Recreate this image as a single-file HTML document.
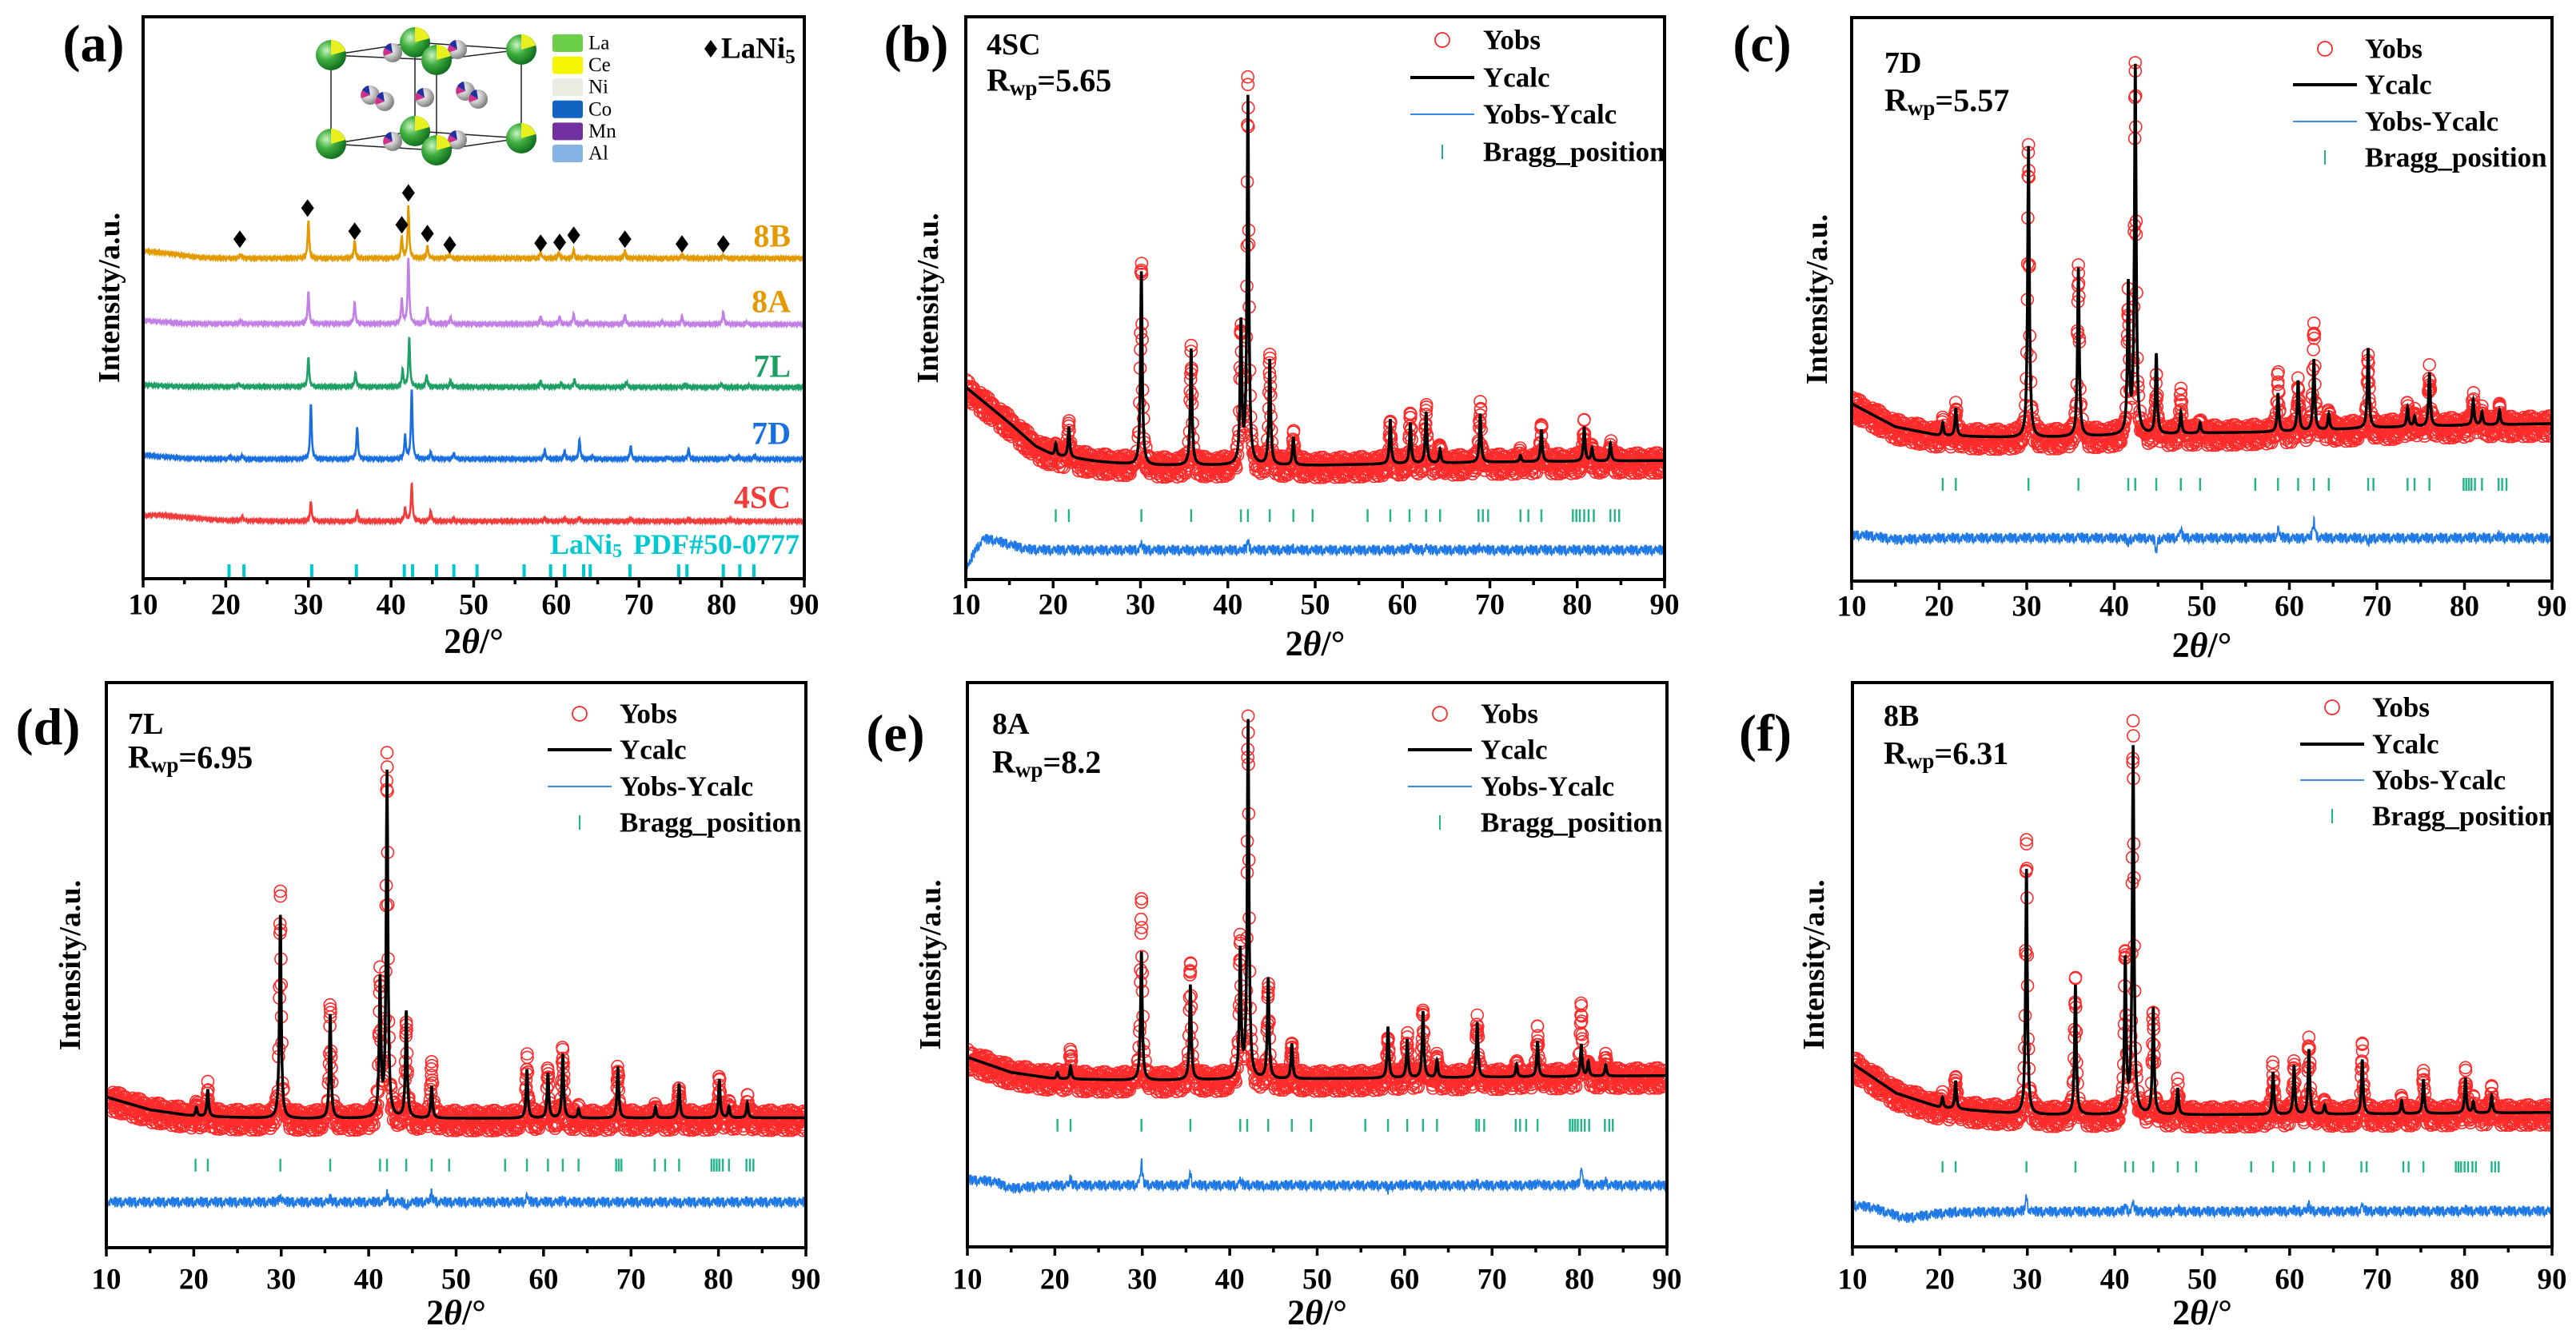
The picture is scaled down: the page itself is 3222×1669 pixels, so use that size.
<!DOCTYPE html>
<html><head><meta charset="utf-8"><title>XRD patterns and Rietveld refinements</title>
<style>
html,body{margin:0;padding:0;background:#fff;}
svg{display:block;font-family:"Liberation Serif","DejaVu Serif",serif;}
</style></head>
<body>
<svg id="fig" xmlns="http://www.w3.org/2000/svg" width="3222" height="1669" viewBox="0 0 3222 1669">
<defs>
<radialGradient id="gLa" cx="0.35" cy="0.35" r="0.7"><stop offset="0" stop-color="#c8f5c0"/><stop offset="0.45" stop-color="#3fae3f"/><stop offset="1" stop-color="#0f6a1c"/></radialGradient>
<radialGradient id="gNi" cx="0.35" cy="0.35" r="0.7"><stop offset="0" stop-color="#ffffff"/><stop offset="0.5" stop-color="#c8c8c8"/><stop offset="1" stop-color="#777"/></radialGradient>
</defs>
</svg>
<script>
// ---------- shared texture (hand-typed jitter values) ----------
const obsJitter=[0.3,-0.8,0.5,0.9,-0.2,-0.6,0.1,0.7,-0.9,0.4,-0.3,0.8,-0.5,0.2,0.6,-0.7,0.0,-0.4,0.9,-0.1,0.5,-0.9,0.3,0.7,-0.6,0.2,-0.8,0.4,0.1,-0.3,0.6,-0.2,0.8,-0.7,0.0,0.5,-0.5,0.3,-0.9,0.7,-0.1];
const xTicks=[10,20,30,40,50,60,70,80,90];
const xTickLabels=['10','20','30','40','50','60','70','80','90'];

// ---------- panel (a) data ----------
const aSampleNames=['4SC','7D','7L','8A','8B'];
const aBg4SC=[[10,79],[12,80],[15,77],[20,73],[30,72],[90,72]];
const aBg7D=[[10,155],[15,151],[20,150],[90,150]];
const aBg7L=[[10,243],[15,241],[90,240]];
const aBg8A=[[10,324],[15,320],[90,319]];
const aBg8B=[[10,411],[13,408],[17,403],[20,402],[90,402]];
const aPos4SC=[22,30.3,35.9,41.7,42.5,44.8,47.6,58.6,61,62.8,69,76,81];
const aH4SC=[5,25,13,17,47,13,3,5,5,6,5,3,3];
const aPos7D=[20.5,22,30.3,35.9,41.7,42.5,44.8,47.6,58.6,61,62.8,64.4,69,73.5,76,81,82,84];
const aH7D=[4,5,69,40,30,88,9,8,12,10,25,4,17,3,13,5,4,4];
const aPos7L=[21.6,30,35.7,41.4,42.2,44.3,47.2,58.1,60.6,62.2,68.5,75.6,80,83.3];
const aH7L=[4,37,18,22,62,15,8,8,6,10,7,4,5,2];
const aPos8A=[21.8,30,35.6,41.3,42.1,44.4,47.2,58.1,60.4,62.1,63.7,68.3,72.8,75.2,80.2,83];
const aH8A=[4,40,27,31,82,21,8,10,10,13,4,12,3,10,16,3];
const aPos8B=[21.8,30,35.6,41.3,42.1,44.4,47.1,58.1,60.3,62.1,63.8,68.3,75.2,80.2];
const aH8B=[5,47,22,27,65,16,5,8,8,11,3,10,5,4];
const aRefPos=[20.4,22.2,30.4,35.8,41.6,42.6,45.5,47.6,50.4,56.1,59.3,61.0,63.3,64.1,68.9,74.8,75.8,80.2,82.2,83.9];
const aDiamondPos=[21.7,29.9,35.6,41.3,42.1,44.4,47.1,58.1,60.4,62.1,68.3,75.2,80.2];
const aDiamondVal=[426,465,436,444,484,433,419,421,422,431,426,420,420];

// ---------- panel (b) 4SC ----------
const bBgX=[10,15,18,20,25,30,40,50,60,70,80,90];
const bBgY=[241,196,167,156,148,143,143,143,145,147,148,149];
const bPeakPos=[20.3,21.8,30.1,35.8,41.5,42.3,44.8,47.5,58.6,60.9,62.7,64.3,68.9,73.5,75.9,80.8,81.7,83.8];
const bCalcH=[15,38,243,146,175,460,132,35,56,51,64,17,61,8,40,43,16,22];
const bObsH=[15,42,260,143,172,483,135,40,56,67,72,17,72,8,44,45,16,22];
const bBragg=[20.3,21.8,30.1,35.8,41.5,42.3,44.8,47.5,49.7,56.0,58.6,60.8,62.7,64.3,68.7,69.2,69.8,73.5,74.4,75.9,79.5,79.9,80.3,80.8,81.3,81.9,83.8,84.3,84.8];
const bDiffX=[10,11,12,13,15,17,20,90];
const bDiffY=[10,35,51,50,44,38,37,37];

// ---------- panel (c) 7D ----------
const cBgX=[10,15,20,30,40,50,60,70,80,90];
const cBgY=[222,193,182,179,182,185,187,192,195,197];
const cPeakPos=[20.4,21.9,30.2,35.9,41.6,42.4,44.8,47.6,49.8,58.7,61.0,62.8,64.5,69.0,73.5,74.3,76.0,81.0,82.0,84.0];
const cCalcH=[16,35,365,211,185,460,100,27,13,48,63,89,20,100,24,12,67,32,16,18];
const cObsH=[16,35,367,216,169,460,65,51,13,72,60,134,20,86,24,12,67,37,16,25];
const cBragg=[20.4,21.9,30.2,35.9,41.6,42.4,44.8,47.6,49.8,56.1,58.7,61.0,62.8,64.5,69.0,69.6,73.5,74.3,76.0,79.9,80.2,80.5,80.8,81.2,82.0,83.9,84.3,84.8];
const cDiffX=[10,12,15,20,90];
const cDiffY=[58,57,52,54,54];

// ---------- panel (d) 7L ----------
const dBgX=[10,15,20,30,90];
const dBgY=[188,172,164,161,162];
const dPeakPos=[20.3,21.6,29.9,35.6,41.3,42.1,44.3,47.2,58.1,60.5,62.2,64,68.5,72.8,75.5,80.1,81.2,83.3];
const dCalcH=[11,34,254,130,170,431,133,40,61,56,80,11,64,14,43,48,14,19];
const dObsH=[11,34,274,139,172,451,117,62,75,58,87,11,64,14,40,48,14,21];
const dBragg=[20.2,21.6,29.9,35.6,41.3,42.1,44.3,47.2,49.2,55.6,58.1,60.5,62.2,64.0,68.3,68.6,68.9,72.7,73.9,75.5,79.2,79.5,79.8,80.1,80.5,81.2,83.2,83.6,84.0];
const dDiffX=[10,90];
const dDiffY=[57,57];

// ---------- panel (e) 8A ----------
const eBgX=[10,15,20,30,50,90];
const eBgY=[237,218,210,208,210,214];
const ePeakPos=[20.3,21.8,29.9,35.5,41.2,42.1,44.4,47.1,58.1,60.3,62.1,63.7,68.3,72.8,75.2,80.2,81,83];
const eCalcH=[8,16,161,119,159,447,126,44,64,48,83,22,69,16,45,40,18,14];
const eObsH=[8,32,220,150,172,448,118,47,53,53,80,22,75,16,56,88,18,24];
const eBragg=[20.3,21.8,29.9,35.5,41.2,42.0,44.4,47.1,49.3,55.5,58.1,60.3,62.1,63.7,68.2,68.5,69.1,72.7,73.2,73.9,75.2,78.9,79.2,79.5,79.8,80.2,80.6,81.1,82.9,83.4,83.8,89.9];
const eDiffX=[10,13,15,17,20,90];
const eDiffY=[84,82,73,75,77,77];

// ---------- panel (f) 8B ----------
const fBgX=[10,15,20,30,50,70,90];
const fBgY=[229,192,174,165,165,166,168];
const fPeakPos=[20.3,21.8,29.9,35.5,41.2,42.1,44.4,47.2,58.1,60.5,62.2,64,68.3,72.8,75.3,80.1,81,83.1];
const fCalcH=[13,35,307,162,191,458,133,33,53,61,81,11,68,16,43,44,14,22];
const fObsH=[13,39,345,166,204,480,128,39,59,64,96,11,83,16,44,47,14,27];
const fBragg=[20.3,21.8,29.9,35.5,41.2,42.1,44.4,47.2,49.3,55.6,58.1,60.5,62.3,63.9,68.2,68.8,73.0,73.6,75.3,79.0,79.3,79.6,80.0,80.4,80.9,81.3,83.1,83.5,83.9,89.9];
const fDiffX=[10,12,16,20,25,90];
const fDiffY=[52,50,36,42,44,45];

// ---------- rendering ----------
const NS='http://www.w3.org/2000/svg';
const svg=document.getElementById('fig');
function mk(tag,parent,attrs){const e=document.createElementNS(NS,tag);for(const k in attrs)e.setAttribute(k,attrs[k]);parent.appendChild(e);return e;}
function interp(xs,ys,x){if(x<=xs[0])return ys[0];for(let i=1;i<xs.length;i++){if(x<=xs[i]){const t=(x-xs[i-1])/(xs[i]-xs[i-1]);return ys[i-1]+t*(ys[i]-ys[i-1]);}}return ys[ys.length-1];}
function peakSum(pos,h,x,w){let s=0;for(let i=0;i<pos.length;i++){const d=(x-pos[i])/w;s+=h[i]/(1+d*d);}return s;}
const YDOM=705;
function axisFns(L){return{xs:v=>L.left+(v-10)/80*(L.right-L.left),ys:v=>L.bottom-v/YDOM*(L.bottom-L.top)};}

function drawFrame(L,g,panelId){
  const A=axisFns(L);
  const ax=mk('g',g,{});
  
  
  for(let v=10;v<=90;v+=5){
    const x=A.xs(v),major=(v%10===0);
    const t=mk('line',ax,{x1:x,y1:L.bottom,x2:x,y2:L.bottom+(major?11:7),stroke:'#000','stroke-width':3.5});
    
    
  }
  xTicks.forEach((v,i)=>{
    const t=mk('text',ax,{x:A.xs(v),y:L.tickY,'text-anchor':'middle','dominant-baseline':'central','font-size':37,'font-weight':'bold'});
    t.textContent=xTickLabels[i];
    
    
  });
  const xt=mk('text',g,{x:(L.left+L.right)/2,y:L.titleY,'text-anchor':'middle','dominant-baseline':'central','font-size':44,'font-weight':'bold'});
  xt.innerHTML='2<tspan font-style="italic">θ</tspan>/°';
  
  
  const yt=mk('text',g,{x:L.yTitleX,y:(L.top+L.bottom)/2,'text-anchor':'middle','dominant-baseline':'central','font-size':38,'font-weight':'bold',transform:`rotate(-90 ${L.yTitleX} ${(L.top+L.bottom)/2})`});
  yt.textContent='Intensity/a.u.';
  
  
  const pl=mk('text',g,{x:L.labX,y:L.labY,'text-anchor':'middle','dominant-baseline':'central','font-size':66,'font-weight':'bold'});
  pl.textContent=L.label;
  
  
}
function drawBox(L,g){
  const r=mk('rect',g,{x:L.left,y:L.top,width:L.right-L.left,height:L.bottom-L.top,fill:'none',stroke:'#000','stroke-width':4});
  
  
}
function clipFor(L,id){
  const cp=mk('clipPath',svg,{id:id});
  mk('rect',cp,{x:L.left,y:L.top,width:L.right-L.left,height:L.bottom-L.top});
  return 'url(#'+id+')';
}

// ---- Panel (a) ----
(function(){
  const L={left:179,right:1006,top:21,bottom:724,tickY:757,titleY:802,yTitleX:137,labX:117,labY:55,label:'(a)'};
  const A=axisFns(L);
  const g=mk('g',svg,{});
  
  
  drawFrame(L,g,'panel-a');
  const clip=clipFor(L,'clipA');
  const traces=[
    {name:'4SC',bg:aBg4SC,pos:aPos4SC,h:aH4SC,color:'#f23c3c',lab:'#f23c3c',labY:622},
    {name:'7D',bg:aBg7D,pos:aPos7D,h:aH7D,color:'#1a6fe0',lab:'#1a6fe0',labY:542},
    {name:'7L',bg:aBg7L,pos:aPos7L,h:aH7L,color:'#1ea064',lab:'#1ea064',labY:458},
    {name:'8A',bg:aBg8A,pos:aPos8A,h:aH8A,color:'#c27fe6',lab:'#e39a00',labY:377},
    {name:'8B',bg:aBg8B,pos:aPos8B,h:aH8B,color:'#e39a00',lab:'#e39a00',labY:295}
  ];
  traces.forEach((tr,ti)=>{
    const bx=tr.bg.map(p=>p[0]),by=tr.bg.map(p=>p[1]);
    let d='',i=0;
    for(let x=10;x<=90.001;x+=0.03,i++){
      const v=interp(bx,by,x)+peakSum(tr.pos,tr.h,x,0.11)+1.1*obsJitter[(i+ti*7)%obsJitter.length];
      d+=(i?'L':'M')+A.xs(x).toFixed(1)+','+A.ys(v).toFixed(1);
    }
    const p=mk('path',g,{d:d,fill:'none',stroke:tr.color,'stroke-width':2.6,'clip-path':clip});
    
    
    const t=mk('text',g,{x:989,y:tr.labY,'text-anchor':'end','dominant-baseline':'central','font-size':40,'font-weight':'bold',fill:tr.lab});
    t.textContent=tr.name;
    
    
  });
  aRefPos.forEach(v=>{
    const r=mk('line',g,{x1:A.xs(v),x2:A.xs(v),y1:A.ys(18),y2:A.ys(0),stroke:'#00c8d0','stroke-width':4});
    
    
  });
  const rl=mk('text',g,{x:1000,y:681,'text-anchor':'end','dominant-baseline':'central','font-size':36,'font-weight':'bold',fill:'#00c8d0'});
  rl.innerHTML='LaNi<tspan font-size="24" dy="9">5</tspan><tspan dy="-9" dx="14">PDF#50-0777</tspan>';
  
  
  aDiamondPos.forEach((v,i)=>{
    const x=A.xs(v),y=A.ys(aDiamondVal[i]);
    const dm=mk('path',g,{d:`M${x},${y-11} L${x+8},${y} L${x},${y+11} L${x-8},${y} Z`,fill:'#000'});
    
    
  });
  const ld=mk('path',g,{d:'M889,50 L897,61 L889,72 L881,61 Z',fill:'#000'});
  
  
  const lt=mk('text',g,{x:902,y:61,'dominant-baseline':'central','font-size':37,'font-weight':'bold'});
  lt.innerHTML='LaNi<tspan font-size="25" dy="10">5</tspan>';
  
  
  // crystal inset
  const cg=mk('g',g,{});
  
  
  const top=[[414,69],[519,53],[652,62],[546,75]],bot=[[414,180],[519,164],[652,173],[546,188]];
  mk('polygon',cg,{points:top.map(p=>p.join(',')).join(' '),fill:'none',stroke:'#222','stroke-width':1.5});
  mk('polygon',cg,{points:bot.map(p=>p.join(',')).join(' '),fill:'none',stroke:'#222','stroke-width':1.5});
  for(let i=0;i<4;i++)mk('line',cg,{x1:top[i][0],y1:top[i][1],x2:bot[i][0],y2:bot[i][1],stroke:'#222','stroke-width':1.5});
  [[491,66],[572,62],[491,177],[572,175],[463,119],[481,127],[531,122],[582,114],[598,124]].forEach(p=>{
    mk('circle',cg,{cx:p[0],cy:p[1],r:12,fill:'url(#gNi)'});
    mk('path',cg,{d:`M${p[0]},${p[1]} L${p[0]-10},${p[1]-6} A12,12 0 0 1 ${p[0]-2},${p[1]-12} Z`,fill:'#2030a0'});
    mk('path',cg,{d:`M${p[0]},${p[1]} L${p[0]-11},${p[1]+4} A12,12 0 0 1 ${p[0]-10},${p[1]-6} Z`,fill:'#d0308a'});
  });
  [[519,53],[519,164],[414,69],[652,62],[414,180],[652,173],[546,75],[546,188]].forEach(p=>{
    mk('circle',cg,{cx:p[0],cy:p[1],r:19,fill:'url(#gLa)'});
    mk('path',cg,{d:`M${p[0]},${p[1]} L${p[0]},${p[1]-19} A19,19 0 0 1 ${p[0]+18},${p[1]-5} Z`,fill:'#e8f020'});
  });
  const elems=[['La','#6ccf4a'],['Ce','#f5f500'],['Ni','#ebebe3'],['Co','#1264c2'],['Mn','#7030a0'],['Al','#84b4e4']];
  elems.forEach((e,i)=>{
    const y=54+i*27.6;
    const r=mk('rect',cg,{x:691,y:y-11,width:38,height:22,rx:3,fill:e[1]});
    
    
    const t=mk('text',cg,{x:736,y:y,'dominant-baseline':'central','font-size':25});
    t.textContent=e[0];
    
    
  });
  drawBox(L,g);
})();

// ---- Refinement panels ----
const refinePanels=[
  {id:'b',sample:'4SC',rwp:'5.65',bgX:bBgX,bgY:bBgY,pos:bPeakPos,calc:bCalcH,obs:bObsH,bragg:bBragg,braggV:[88,72],dX:bDiffX,dY:bDiffY,
   L:{left:1208,right:2082,top:21,bottom:725,tickY:757,titleY:805,yTitleX:1161,labX:1146,labY:55,label:'(b)',sx:1234,sy:56,ry:100,mx:1804,tx:1855,rows:[50,97,143,190]}},
  {id:'c',sample:'7D',rwp:'5.57',bgX:cBgX,bgY:cBgY,pos:cPeakPos,calc:cCalcH,obs:cObsH,bragg:cBragg,braggV:[129,113],dX:cDiffX,dY:cDiffY,
   L:{left:2316,right:3192,top:22,bottom:727,tickY:759,titleY:807,yTitleX:2273,labX:2204,labY:55,label:'(c)',sx:2357,sy:79,ry:125,mx:2908,tx:2958,rows:[61,106,152,197]}},
  {id:'d',sample:'7L',rwp:'6.95',bgX:dBgX,bgY:dBgY,pos:dPeakPos,calc:dCalcH,obs:dObsH,bragg:dBragg,braggV:[111,95],dX:dDiffX,dY:dDiffY,
   L:{left:133,right:1008,top:854,bottom:1561,tickY:1601,titleY:1642,yTitleX:88,labX:60,labY:910,label:'(d)',sx:160,sy:906,ry:947,mx:725,tx:775,rows:[893,938,984,1029]}},
  {id:'e',sample:'8A',rwp:'8.2',bgX:eBgX,bgY:eBgY,pos:ePeakPos,calc:eCalcH,obs:eObsH,bragg:eBragg,braggV:[160,144],dX:eDiffX,dY:eDiffY,
   L:{left:1210,right:2085,top:854,bottom:1560,tickY:1601,titleY:1642,yTitleX:1164,labX:1120,labY:918,label:'(e)',sx:1241,sy:906,ry:953,mx:1801,tx:1852,rows:[893,938,984,1029]}},
  {id:'f',sample:'8B',rwp:'6.31',bgX:fBgX,bgY:fBgY,pos:fPeakPos,calc:fCalcH,obs:fObsH,bragg:fBragg,braggV:[107,93],dX:fDiffX,dY:fDiffY,
   L:{left:2317,right:3192,top:854,bottom:1560,tickY:1601,titleY:1642,yTitleX:2269,labX:2208,labY:918,label:'(f)',sx:2356,sy:896,ry:942,mx:2917,tx:2967,rows:[885,931,976,1021]}}
];
refinePanels.forEach((P,pi)=>{
  const L=P.L,A=axisFns(L);
  const g=mk('g',svg,{});
  
  
  drawFrame(L,g,'panel-'+P.id);
  const clip=clipFor(L,'clip'+P.id);
  const W=0.12;
  // observed points
  const xsList=[];
  for(let x=10;x<=90.001;x+=0.055)xsList.push(x);
  P.pos.forEach(p=>{xsList.push(p);xsList.push(p-0.04);xsList.push(p+0.04);xsList.push(p-0.1);xsList.push(p+0.1);});
  let od='';
  xsList.forEach((x,i)=>{
    const v=interp(P.bgX,P.bgY,x)+peakSum(P.pos,P.obs,x,W)-3+14*obsJitter[(i*3+pi*5)%obsJitter.length];
    const cx=A.xs(x),cy=A.ys(v),r=7.5;
    od+=`M${(cx-r).toFixed(1)},${cy.toFixed(1)}a${r},${r} 0 1,0 ${2*r},0a${r},${r} 0 1,0 ${-2*r},0`;
  });
  const op=mk('path',g,{d:od,fill:'none',stroke:'#ff2a2a','stroke-width':1.6,'clip-path':clip});
  
  
  // calc line
  let cd='',i=0;
  for(let x=10;x<=90.001;x+=0.02,i++){
    const v=interp(P.bgX,P.bgY,x)+peakSum(P.pos,P.calc,x,W);
    cd+=(i?'L':'M')+A.xs(x).toFixed(1)+','+A.ys(v).toFixed(1);
  }
  const cp=mk('path',g,{d:cd,fill:'none',stroke:'#000','stroke-width':3.5,'clip-path':clip});
  
  
  // difference
  let dd='';i=0;
  for(let x=10;x<=90.001;x+=0.04,i++){
    const v=interp(P.dX,P.dY,x)+0.5*(peakSum(P.pos,P.obs,x,W)-peakSum(P.pos,P.calc,x,W))+7*obsJitter[(i*5+pi*3)%obsJitter.length];
    dd+=(i?'L':'M')+A.xs(x).toFixed(1)+','+A.ys(v).toFixed(1);
  }
  const dp=mk('path',g,{d:dd,fill:'none',stroke:'#1e78e6','stroke-width':1.6,'clip-path':clip});
  
  
  // bragg
  P.bragg.forEach(v=>{
    const b=mk('line',g,{x1:A.xs(v),x2:A.xs(v),y1:A.ys(P.braggV[0]),y2:A.ys(P.braggV[1]),stroke:'#22b486','stroke-width':2.4});
    
    
  });
  // sample text
  const st=mk('text',g,{x:L.sx,y:L.sy,'dominant-baseline':'central','font-size':38,'font-weight':'bold'});
  st.textContent=P.sample;
  
  
  const rt=mk('text',g,{x:L.sx,y:L.ry,'dominant-baseline':'central','font-size':40,'font-weight':'bold'});
  rt.innerHTML='R<tspan font-size="27" dy="10">wp</tspan><tspan dy="-10">='+P.rwp+'</tspan>';
  
  
  // legend
  const lg=mk('g',g,{});
  
  
  const names=['Yobs','Ycalc','Yobs-Ycalc','Bragg_position'];
  const m0=mk('circle',lg,{cx:L.mx,cy:L.rows[0],r:9,fill:'none',stroke:'#ff2a2a','stroke-width':1.8});
  
  
  const m1=mk('line',lg,{x1:L.mx-40,x2:L.mx+40,y1:L.rows[1],y2:L.rows[1],stroke:'#000','stroke-width':4});
  
  
  const m2=mk('line',lg,{x1:L.mx-40,x2:L.mx+40,y1:L.rows[2],y2:L.rows[2],stroke:'#1e78e6','stroke-width':1.8});
  
  
  const m3=mk('line',lg,{x1:L.mx,x2:L.mx,y1:L.rows[3]-9,y2:L.rows[3]+9,stroke:'#22b486','stroke-width':2});
  
  
  names.forEach((n,k)=>{
    const t=mk('text',lg,{x:L.tx,y:L.rows[k],'dominant-baseline':'central','font-size':35,'font-weight':'bold'});
    t.textContent=n;
    
    
  });
  drawBox(L,g);
});
</script>
</body></html>
